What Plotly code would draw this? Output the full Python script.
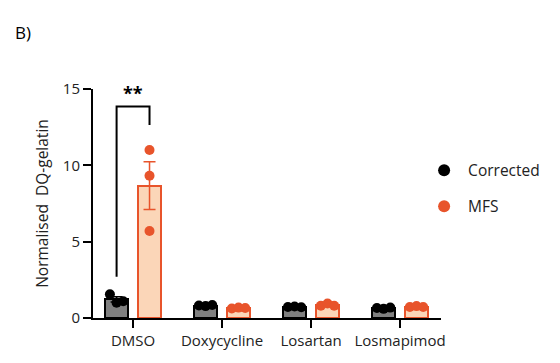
import numpy as np
import plotly.graph_objects as go

categories = ["DMSO", "Doxycycline", "Losartan", "Losmapimod"]
corrected = [
    [1.55, 1.0, 1.1],
    [0.82, 0.78, 0.85],
    [0.72, 0.75, 0.70],
    [0.65, 0.60, 0.68],
]
mfs = [
    [11.0, 9.32, 5.7],
    [0.62, 0.68, 0.65],
    [0.80, 0.95, 0.80],
    [0.72, 0.78, 0.72],
]
y_ticks = [0, 5, 10, 15]

OFF = 0.185
W = 0.25
SPREAD = [-0.075, 0.0, 0.075]

BLACK = "#000000"
GRAY = "#808080"
ORANGE = "#E8542B"
PEACH = "#FBD6B8"

idx = np.arange(len(categories))

def stats(groups):
    arr = [np.array(g) for g in groups]
    means = [a.mean() for a in arr]
    sems = [a.std(ddof=1) / np.sqrt(len(a)) for a in arr]
    return means, sems

fig = go.Figure()

for groups, sign, name, edge, fill in [
    (corrected, -1, "Corrected", BLACK, GRAY),
    (mfs, 1, "MFS", ORANGE, PEACH),
]:
    means, sems = stats(groups)
    xs = idx + sign * OFF
    fig.add_trace(go.Bar(
        x=xs, y=means, width=W, showlegend=False,
        marker=dict(color=fill, line=dict(color=edge, width=2)),
        error_y=dict(type="data", array=sems, color=edge, thickness=1.5, width=6),
        hoverinfo="skip",
    ))
    px, py = [], []
    for i, g in enumerate(groups):
        spread = (max(g) - min(g)) < 1.0
        for j, v in enumerate(g):
            px.append(xs[i] + (SPREAD[j] if spread else 0.0))
            py.append(v)
    fig.add_trace(go.Scatter(
        x=px, y=py, mode="markers", name=name, legendgroup=name,
        marker=dict(color=edge, size=10, line=dict(width=0)),
        cliponaxis=False,
    ))

# significance bracket DMSO
top = 13.85
fig.add_trace(go.Scatter(
    x=[idx[0] - OFF, idx[0] - OFF, idx[0] + OFF, idx[0] + OFF],
    y=[2.7, top, top, 12.65],
    mode="lines", line=dict(color=BLACK, width=2),
    showlegend=False, hoverinfo="skip", cliponaxis=False,
))
fig.add_annotation(x=idx[0], y=top, text="<b>**</b>", showarrow=False,
                   yshift=14, font=dict(size=18, color=BLACK))

fig.add_annotation(x=0, y=1, xref="paper", yref="paper", text="B)",
                   showarrow=False, xshift=-80, yshift=70,
                   font=dict(size=17, color=BLACK), xanchor="left", yanchor="top")

fig.update_layout(
    width=560, height=363,
    margin=dict(l=85, r=127, t=81, b=53),
    plot_bgcolor="white", paper_bgcolor="white",
    font=dict(family="Open Sans", size=15, color="#222222"),
    legend=dict(x=0.94, y=0.565, xanchor="left", yanchor="middle",
                font=dict(size=15.5, color="#222222"), tracegroupgap=13,
                itemsizing="constant", itemwidth=38, bgcolor="rgba(0,0,0,0)"),
    bargap=0,
)
fig.update_xaxes(
    range=[-0.45, 3.46], tickvals=idx, ticktext=categories,
    showline=True, linecolor=BLACK, linewidth=2,
    ticks="outside", ticklen=8, tickwidth=2, tickcolor=BLACK,
    showgrid=False, zeroline=False, fixedrange=True,
)
fig.update_yaxes(
    range=[0, 15], tickvals=y_ticks,
    showline=True, linecolor=BLACK, linewidth=2,
    ticks="outside", ticklen=8, tickwidth=2, tickcolor=BLACK,
    showgrid=False, zeroline=False,
    title=dict(text="Normalised  DQ-gelatin", standoff=10, font=dict(size=15.5)),
)

fig.write_html("out.html")
